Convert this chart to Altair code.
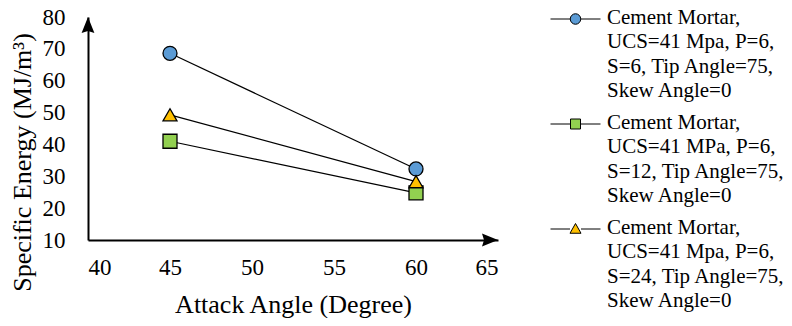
import altair as alt
import pandas as pd

# ---- data ----
attack_angle = [45, 60]
series_labels = [
    "Cement Mortar,|UCS=41 Mpa, P=6,|S=6, Tip Angle=75,|Skew Angle=0",
    "Cement Mortar,|UCS=41 MPa, P=6,|S=12, Tip Angle=75,|Skew Angle=0",
    "Cement Mortar,|UCS=41 Mpa, P=6,|S=24, Tip Angle=75,|Skew Angle=0",
]
energy_s6 = [68.6, 32.3]
energy_s12 = [41.0, 24.8]
energy_s24 = [49.3, 28.3]

x_ticks = [40, 45, 50, 55, 60, 65]
y_ticks = [10, 20, 30, 40, 50, 60, 70, 80]

colors = ["#5B9BD5", "#92D050", "#FFC000"]
shapes = ["circle", "square", "triangle-up"]

rows = []
for lab, vals in zip(series_labels, [energy_s6, energy_s12, energy_s24]):
    for a, v in zip(attack_angle, vals):
        rows.append({"angle": a, "energy": v, "series": lab})
df = pd.DataFrame(rows)

# axis arrow tips sit at the ends of the axis domains
arrow_df = pd.DataFrame({"angle": [x_ticks[0], x_ticks[-1]],
                         "energy": [y_ticks[-1], y_ticks[0]],
                         "dir": ["up", "right"]})

FONT = "Liberation Serif"

# legend symbols: line through marker (unit = 5px for symbolSize 100)
dx, dy = 5.4, 2.5
def seg():
    return f"M{dx-5},{dy}H{dx-1.1}M{dx+1.1},{dy}H{dx+5}"
leg_circle = seg() + f"M{dx-1.05},{dy}A1.05,1.05 0 1,1 {dx+1.05},{dy}A1.05,1.05 0 1,1 {dx-1.05},{dy}Z"
leg_square = seg() + f"M{dx-1},{dy-1}H{dx+1}V{dy+1}H{dx-1}Z"
leg_tri = seg() + f"M{dx},{dy-1.1}L{dx+1.1},{dy+0.85}L{dx-1.1},{dy+0.85}Z"

xscale = alt.Scale(domain=[40, 65], nice=False, zero=False)
yscale = alt.Scale(domain=[10, 80], nice=False, zero=False)

x_enc = alt.X("angle:Q", scale=xscale, axis=alt.Axis(
    values=x_ticks, title="Attack Angle (Degree)", titleY=64, titleBaseline="middle",
    labelPadding=16, labelFont=FONT, labelFontSize=23, labelOverlap=False))
y_enc = alt.Y("energy:Q", scale=yscale, axis=alt.Axis(
    values=y_ticks, title="Specific Energy (MJ/m³)", titleX=-66, titleY=145,
    titleAngle=270, titleAlign="center", titleBaseline="middle", labelPadding=23,
    labelFont=FONT, labelFontSize=23, labelOverlap=False))

base = alt.Chart(df)

lines = base.mark_line(color="black", strokeWidth=1.2).encode(
    x=x_enc, y=y_enc, detail="series:N")

point_layers = []
for lab, shp, col in zip(series_labels, shapes, colors):
    point_layers.append(
        base.transform_filter(alt.datum.series == lab).mark_point(
            filled=True, size=196, shape=shp, fill=col, stroke="black",
            strokeWidth=1.3, opacity=1).encode(x=x_enc, y=y_enc)
    )

legend_def = dict(
    title=None, orient="none", legendX=450, legendY=-21, direction="vertical",
    labelExpr="split(datum.label, '|')", labelFont=FONT, labelFontSize=21,
    labelColor="black", labelBaseline="top", labelLimit=400,
    labelOffset=48, symbolSize=100, symbolStrokeWidth=1,
    rowPadding=-8, padding=0,
)
legend_layer = base.mark_point(filled=True, strokeWidth=1, opacity=1).encode(
    x=x_enc, y=y_enc,
    shape=alt.Shape("series:N", scale=alt.Scale(domain=series_labels,
                    range=[leg_circle, leg_square, leg_tri]), legend=alt.Legend(**legend_def)),
    fill=alt.Fill("series:N", scale=alt.Scale(domain=series_labels, range=colors),
                  legend=alt.Legend(**legend_def)),
    stroke=alt.Stroke("series:N", scale=alt.Scale(domain=series_labels,
                      range=["black", "black", "black"]), legend=alt.Legend(**legend_def)),
).transform_filter("false")

up_arrow = "M0,0L0.8,2L0,1.75L-0.8,2Z"
right_arrow = "M0,0L-2,0.8L-1.75,0L-2,-0.8Z"
arrows = []
for d, path in [("up", up_arrow), ("right", right_arrow)]:
    arrows.append(
        alt.Chart(arrow_df).transform_filter(alt.datum.dir == d).mark_point(
            shape=path, filled=True, color="black", size=256, opacity=1, clip=False
        ).encode(x=x_enc, y=y_enc)
    )

chart = alt.layer(lines, *point_layers, legend_layer, *arrows).properties(
    width=410, height=223,
    autosize=alt.AutoSizeParams(type="none"),
    padding={"left": 80, "top": 9, "right": 286, "bottom": 78},
).configure(
    font=FONT,
    style={"guide-label": {"lineHeight": 24.5, "font": FONT, "fill": "black"},
           "guide-title": {"font": FONT, "fill": "black"}}
).configure_view(strokeWidth=0).configure_axis(
    grid=False, ticks=False, tickSize=0, domainColor="black", domainWidth=2,
    labelFont=FONT, labelFontSize=23, labelColor="black",
    titleFont=FONT, titleFontSize=26, titleColor="black", titleFontWeight="normal",
)

chart.save("out.html", embed_options={"renderer": "svg", "actions": False})
